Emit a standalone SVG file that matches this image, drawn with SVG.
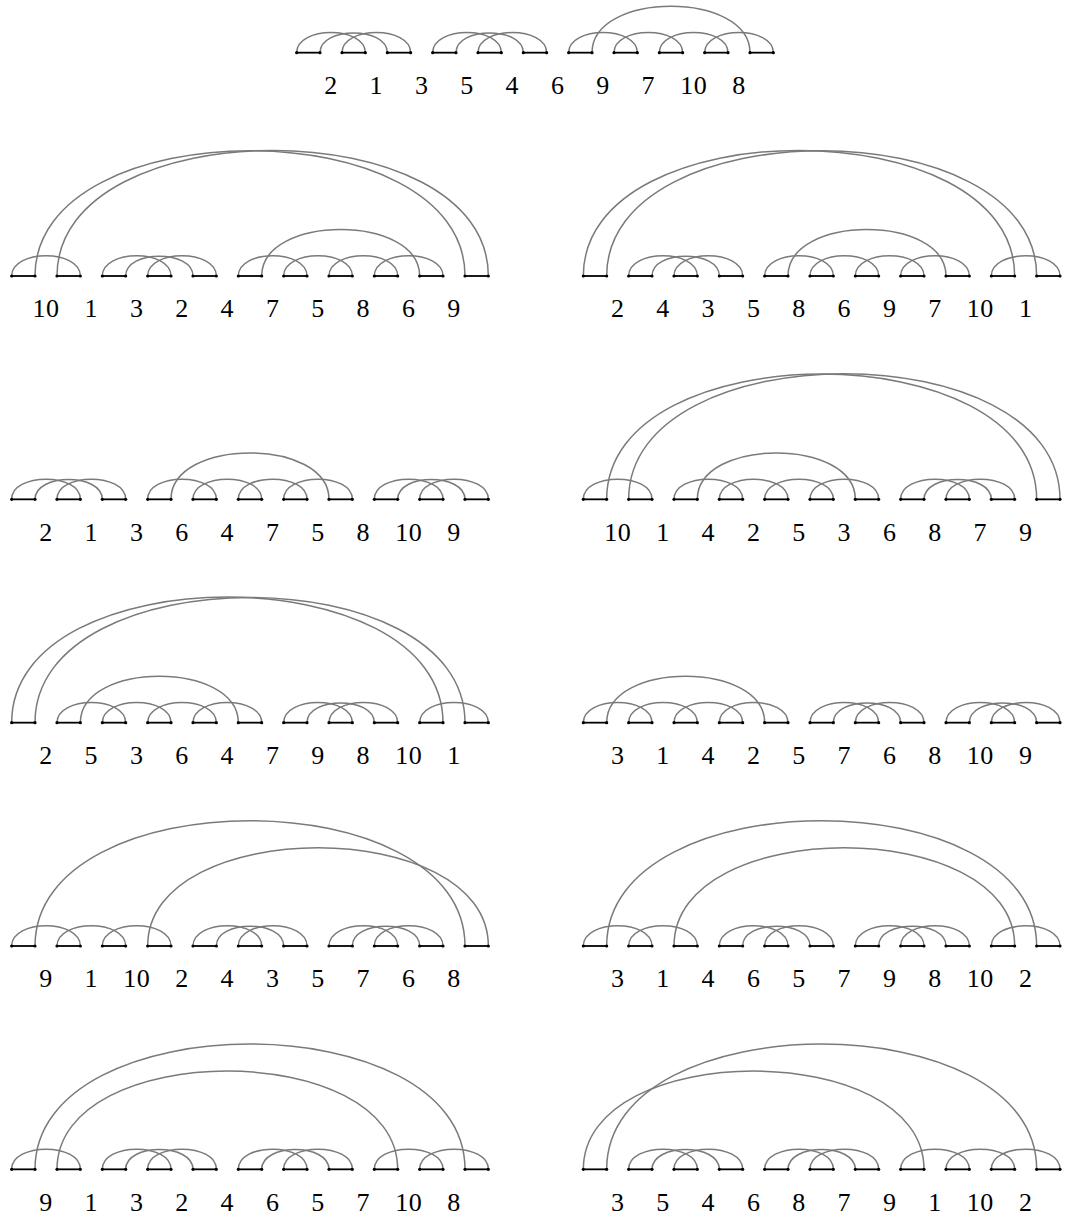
<svg xmlns="http://www.w3.org/2000/svg" xmlns:xlink="http://www.w3.org/1999/xlink" width="1066" height="1226" viewBox="0 0 1066 1226">
<style>
.arcs use{fill:none;stroke:#7a7a7a;stroke-width:1.5}
.segline{stroke:#000;stroke-width:1.8}
.dot{fill:#000}
text{font-family:"Liberation Serif","Times New Roman",serif;font-size:26px;fill:#000;text-anchor:middle;letter-spacing:0.5px}
</style>
<defs>
<g id="s"><line class="segline" x1="0" y1="0" x2="23.33" y2="0"/><circle class="dot" cx="0" cy="0" r="1.6"/><circle class="dot" cx="23.33" cy="0" r="1.6"/></g>
<g id="segs">
<use href="#s" x="0"/><use href="#s" x="45.33"/><use href="#s" x="90.67"/><use href="#s" x="136"/><use href="#s" x="181.33"/><use href="#s" x="226.67"/><use href="#s" x="272"/><use href="#s" x="317.33"/><use href="#s" x="362.67"/><use href="#s" x="408"/><use href="#s" x="453.33"/>
</g>
<path id="A" d="M0 0C0 -26.88 68.67 -26.88 68.67 0"/>
<path id="B" d="M0 0C0 -26.36 67.33 -26.36 67.33 0"/>
<path id="M" d="M0 0C0 -61.86 158 -61.86 158 0"/>
<path id="G1" d="M0 0C0 -167 430 -167 430 0"/>
<path id="G2" d="M0 0C0 -167.5 431.33 -167.5 431.33 0"/>
<path id="G3" d="M0 0C0 -131 340.67 -131 340.67 0"/>
</defs>

<g id="connectors">
<g id="arcs-p1" class="arcs" transform="translate(296.67,52.67)">
<use href="#A" x="0"/><use href="#A" x="45.33"/><use href="#B" x="23.33"/>
<use href="#A" x="136"/><use href="#A" x="181.33"/><use href="#B" x="159.33"/>
<use href="#A" x="272"/><use href="#A" x="317.33"/><use href="#A" x="362.67"/><use href="#A" x="408"/><use href="#M" x="295.33"/>
</g>
<g id="arcs-p2" class="arcs" transform="translate(11.67,276)">
<use href="#A" x="0"/><use href="#G1" x="23.33"/><use href="#G2" x="45.33"/>
<use href="#A" x="90.67"/><use href="#A" x="136"/><use href="#B" x="114"/>
<use href="#A" x="226.67"/><use href="#A" x="272"/><use href="#A" x="317.33"/><use href="#A" x="362.67"/><use href="#M" x="250"/>
</g>
<g id="arcs-p3" class="arcs" transform="translate(583.33,276)">
<use href="#G2" x="0"/><use href="#G1" x="23.33"/>
<use href="#A" x="45.33"/><use href="#A" x="90.67"/><use href="#B" x="68.67"/>
<use href="#A" x="181.33"/><use href="#A" x="226.67"/><use href="#A" x="272"/><use href="#A" x="317.33"/><use href="#M" x="204.67"/>
<use href="#A" x="408"/>
</g>
<g id="arcs-p4" class="arcs" transform="translate(11.67,499.33)">
<use href="#A" x="0"/><use href="#A" x="45.33"/><use href="#B" x="23.33"/>
<use href="#A" x="136"/><use href="#A" x="181.33"/><use href="#A" x="226.67"/><use href="#A" x="272"/><use href="#M" x="159.33"/>
<use href="#A" x="362.67"/><use href="#A" x="408"/><use href="#B" x="386"/>
</g>
<g id="arcs-p5" class="arcs" transform="translate(583.33,499.33)">
<use href="#A" x="0"/><use href="#G1" x="23.33"/><use href="#G2" x="45.33"/>
<use href="#A" x="90.67"/><use href="#A" x="136"/><use href="#A" x="181.33"/><use href="#A" x="226.67"/><use href="#M" x="114"/>
<use href="#A" x="317.33"/><use href="#A" x="362.67"/><use href="#B" x="340.67"/>
</g>
<g id="arcs-p6" class="arcs" transform="translate(11.67,722.67)">
<use href="#G2" x="0"/><use href="#G1" x="23.33"/>
<use href="#A" x="45.33"/><use href="#A" x="90.67"/><use href="#A" x="136"/><use href="#A" x="181.33"/><use href="#M" x="68.67"/>
<use href="#A" x="272"/><use href="#A" x="317.33"/><use href="#B" x="295.33"/>
<use href="#A" x="408"/>
</g>
<g id="arcs-p7" class="arcs" transform="translate(583.33,722.67)">
<use href="#A" x="0"/><use href="#A" x="45.33"/><use href="#A" x="90.67"/><use href="#A" x="136"/><use href="#M" x="23.33"/>
<use href="#A" x="226.67"/><use href="#A" x="272"/><use href="#B" x="250"/>
<use href="#A" x="362.67"/><use href="#A" x="408"/><use href="#B" x="386"/>
</g>
<g id="arcs-p8" class="arcs" transform="translate(11.67,946)">
<use href="#A" x="0"/><use href="#A" x="45.33"/><use href="#A" x="90.67"/>
<use href="#G1" x="23.33"/><use href="#G3" x="136"/>
<use href="#A" x="181.33"/><use href="#A" x="226.67"/><use href="#B" x="204.67"/>
<use href="#A" x="317.33"/><use href="#A" x="362.67"/><use href="#B" x="340.67"/>
</g>
<g id="arcs-p9" class="arcs" transform="translate(583.33,946)">
<use href="#A" x="0"/><use href="#A" x="45.33"/>
<use href="#G1" x="23.33"/><use href="#G3" x="90.67"/>
<use href="#A" x="136"/><use href="#A" x="181.33"/><use href="#B" x="159.33"/>
<use href="#A" x="272"/><use href="#A" x="317.33"/><use href="#B" x="295.33"/>
<use href="#A" x="408"/>
</g>
<g id="arcs-p10" class="arcs" transform="translate(11.67,1169.33)">
<use href="#A" x="0"/><use href="#G1" x="23.33"/><use href="#G3" x="45.33"/>
<use href="#A" x="90.67"/><use href="#A" x="136"/><use href="#B" x="114"/>
<use href="#A" x="226.67"/><use href="#A" x="272"/><use href="#B" x="250"/>
<use href="#A" x="362.67"/><use href="#A" x="408"/>
</g>
<g id="arcs-p11" class="arcs" transform="translate(583.33,1169.33)">
<use href="#G3" x="0"/><use href="#G1" x="23.33"/>
<use href="#A" x="45.33"/><use href="#A" x="90.67"/><use href="#B" x="68.67"/>
<use href="#A" x="181.33"/><use href="#A" x="226.67"/><use href="#B" x="204.67"/>
<use href="#A" x="317.33"/><use href="#A" x="362.67"/><use href="#A" x="408"/>
</g>
</g>

<g id="p1" transform="translate(296.67,52.67)"><use href="#segs"/>
<text x="34.33" y="41.3">2</text><text x="79.67" y="41.3">1</text><text x="125" y="41.3">3</text><text x="170.33" y="41.3">5</text><text x="215.67" y="41.3">4</text><text x="261" y="41.3">6</text><text x="306.33" y="41.3">9</text><text x="351.67" y="41.3">7</text><text x="397" y="41.3">10</text><text x="442.33" y="41.3">8</text>
</g>
<g id="p2" transform="translate(11.67,276)"><use href="#segs"/>
<text x="34.33" y="41.3">10</text><text x="79.67" y="41.3">1</text><text x="125" y="41.3">3</text><text x="170.33" y="41.3">2</text><text x="215.67" y="41.3">4</text><text x="261" y="41.3">7</text><text x="306.33" y="41.3">5</text><text x="351.67" y="41.3">8</text><text x="397" y="41.3">6</text><text x="442.33" y="41.3">9</text>
</g>
<g id="p3" transform="translate(583.33,276)"><use href="#segs"/>
<text x="34.33" y="41.3">2</text><text x="79.67" y="41.3">4</text><text x="125" y="41.3">3</text><text x="170.33" y="41.3">5</text><text x="215.67" y="41.3">8</text><text x="261" y="41.3">6</text><text x="306.33" y="41.3">9</text><text x="351.67" y="41.3">7</text><text x="397" y="41.3">10</text><text x="442.33" y="41.3">1</text>
</g>
<g id="p4" transform="translate(11.67,499.33)"><use href="#segs"/>
<text x="34.33" y="41.3">2</text><text x="79.67" y="41.3">1</text><text x="125" y="41.3">3</text><text x="170.33" y="41.3">6</text><text x="215.67" y="41.3">4</text><text x="261" y="41.3">7</text><text x="306.33" y="41.3">5</text><text x="351.67" y="41.3">8</text><text x="397" y="41.3">10</text><text x="442.33" y="41.3">9</text>
</g>
<g id="p5" transform="translate(583.33,499.33)"><use href="#segs"/>
<text x="34.33" y="41.3">10</text><text x="79.67" y="41.3">1</text><text x="125" y="41.3">4</text><text x="170.33" y="41.3">2</text><text x="215.67" y="41.3">5</text><text x="261" y="41.3">3</text><text x="306.33" y="41.3">6</text><text x="351.67" y="41.3">8</text><text x="397" y="41.3">7</text><text x="442.33" y="41.3">9</text>
</g>
<g id="p6" transform="translate(11.67,722.67)"><use href="#segs"/>
<text x="34.33" y="41.3">2</text><text x="79.67" y="41.3">5</text><text x="125" y="41.3">3</text><text x="170.33" y="41.3">6</text><text x="215.67" y="41.3">4</text><text x="261" y="41.3">7</text><text x="306.33" y="41.3">9</text><text x="351.67" y="41.3">8</text><text x="397" y="41.3">10</text><text x="442.33" y="41.3">1</text>
</g>
<g id="p7" transform="translate(583.33,722.67)"><use href="#segs"/>
<text x="34.33" y="41.3">3</text><text x="79.67" y="41.3">1</text><text x="125" y="41.3">4</text><text x="170.33" y="41.3">2</text><text x="215.67" y="41.3">5</text><text x="261" y="41.3">7</text><text x="306.33" y="41.3">6</text><text x="351.67" y="41.3">8</text><text x="397" y="41.3">10</text><text x="442.33" y="41.3">9</text>
</g>
<g id="p8" transform="translate(11.67,946)"><use href="#segs"/>
<text x="34.33" y="41.3">9</text><text x="79.67" y="41.3">1</text><text x="125" y="41.3">10</text><text x="170.33" y="41.3">2</text><text x="215.67" y="41.3">4</text><text x="261" y="41.3">3</text><text x="306.33" y="41.3">5</text><text x="351.67" y="41.3">7</text><text x="397" y="41.3">6</text><text x="442.33" y="41.3">8</text>
</g>
<g id="p9" transform="translate(583.33,946)"><use href="#segs"/>
<text x="34.33" y="41.3">3</text><text x="79.67" y="41.3">1</text><text x="125" y="41.3">4</text><text x="170.33" y="41.3">6</text><text x="215.67" y="41.3">5</text><text x="261" y="41.3">7</text><text x="306.33" y="41.3">9</text><text x="351.67" y="41.3">8</text><text x="397" y="41.3">10</text><text x="442.33" y="41.3">2</text>
</g>
<g id="p10" transform="translate(11.67,1169.33)"><use href="#segs"/>
<text x="34.33" y="41.3">9</text><text x="79.67" y="41.3">1</text><text x="125" y="41.3">3</text><text x="170.33" y="41.3">2</text><text x="215.67" y="41.3">4</text><text x="261" y="41.3">6</text><text x="306.33" y="41.3">5</text><text x="351.67" y="41.3">7</text><text x="397" y="41.3">10</text><text x="442.33" y="41.3">8</text>
</g>
<g id="p11" transform="translate(583.33,1169.33)"><use href="#segs"/>
<text x="34.33" y="41.3">3</text><text x="79.67" y="41.3">5</text><text x="125" y="41.3">4</text><text x="170.33" y="41.3">6</text><text x="215.67" y="41.3">8</text><text x="261" y="41.3">7</text><text x="306.33" y="41.3">9</text><text x="351.67" y="41.3">1</text><text x="397" y="41.3">10</text><text x="442.33" y="41.3">2</text>
</g>
</svg>
